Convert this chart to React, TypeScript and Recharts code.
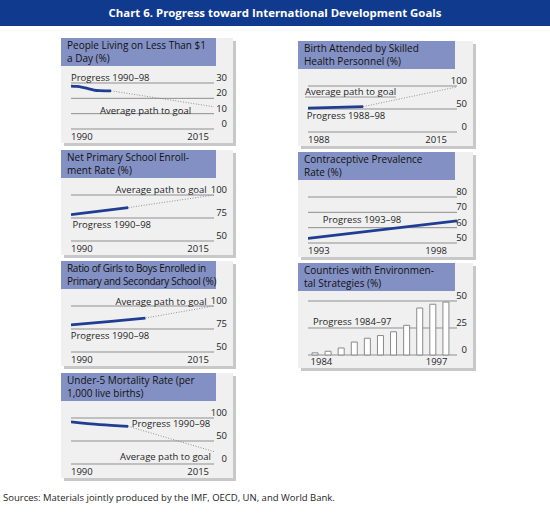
import React from "react";
import { LineChart, Line, BarChart, Bar, XAxis, YAxis, CartesianGrid } from "recharts";

const FONT = '"Open Sans", "Noto Sans", sans-serif';
const GRID = "#8f8f8f";
const BLUE = "#1f3d93";
const HEADER = "#8390c4";
const PANEL = "#f0f0f0";
const INK = "#1e1e1e";

// People living on less than $1 a day (%)
const povertyYears = [1990, 1991, 1992, 1993, 1994, 1995, 1996, 1997];
const povertyProgress = [28, 27.8, 27.2, 26.3, 25.4, 25, 24.9, 24.9];
const povertyPathYears = [1997, 2015];
const povertyPath = [24.9, 14.5];

// Net primary school enrollment rate (%)
const enrollYears = [1990, 2000];
const enrollProgress = [78.6, 86.3];
const enrollPathYears = [2000, 2015];
const enrollPath = [86.3, 100];

// Ratio of girls to boys enrolled (%)
const girlsYears = [1990, 1997, 2003];
const girlsProgress = [79.5, 83.2, 86.9];
const girlsPathYears = [2003, 2015];
const girlsPath = [86.9, 100];

// Under-5 mortality rate (per 1,000 live births)
const mortalityYears = [1990, 1995, 2000];
const mortalityProgress = [91.5, 85.5, 82];
const mortalityPathYears = [2000, 2015];
const mortalityPath = [82, 27];

// Births attended by skilled health personnel (%)
const birthYears = [1988, 1998];
const birthProgress = [52, 55.2];
const birthPathYears = [1998, 2015];
const birthPath = [55.2, 98];

// Contraceptive prevalence rate (%)
const contraYears = [1993, 1998];
const contraProgress = [53, 64.5];

// Countries with environmental strategies (%)
const envValues = [2, 3.5, 6.5, 12, 15.5, 18, 21.5, 27.5, 43.5, 47, 49];
const envTickLabels = ["1984", "", "", "", "", "", "", "", "", "", "1997"];

type Row = { year: number; progress: number | null; path: number | null };

function mergeRows(px: number[], pv: number[], gx: number[], gv: number[]): Row[] {
  const map = new Map<number, Row>();
  px.forEach((x, i) => map.set(x, { year: x, progress: pv[i], path: null }));
  gx.forEach((x, i) => {
    const r = map.get(x) ?? { year: x, progress: null, path: null };
    r.path = gv[i];
    map.set(x, r);
  });
  return [...map.values()].sort((a, b) => a.year - b.year);
}

type Col = { left: number; width: number; headW: number; axisW: number; labelDx: number; xEndShift: number };
const LEFT: Col = { left: 61, width: 172, headW: 155, axisW: 19, labelDx: 13, xEndShift: 5 };
const RIGHT: Col = { left: 298, width: 175, headW: 157, axisW: 16, labelDx: 10, xEndShift: 10 };

type Note = { text: string; x: number; y: number; end?: boolean; underline?: boolean };

// chart svg starts this far below the panel top
const CHART_TOP = 20;

const makeYTick = (dx: number) => (p: any) => (
  <text x={p.x + dx} y={p.y - 2} textAnchor="end" fontSize={9.5} fontFamily={FONT} fill={INK}>
    {p.payload.value}
  </text>
);

const makeXTick = (endShift: number) => (p: any) => {
  const first = p.index === 0;
  return (
    <text x={first ? p.x : p.x - endShift} y={p.y + 11} textAnchor={first ? "start" : "end"} fontSize={9.5} fontFamily={FONT} fill={INK}>
      {p.payload.value}
    </text>
  );
};

function Panel({ col, top, title, notes, tight, children }: { col: Col; top: number; title: string[]; notes: Note[]; tight?: boolean; children: React.ReactNode }) {
  return (
    <div style={{ position: "absolute", left: col.left, top, width: col.width, height: 105, background: PANEL, boxShadow: "3px 3px 0 #c8c8c8" }}>
      <div style={{ position: "absolute", left: 0, top: 0, width: col.headW, height: 28, background: HEADER }} />
      <div style={{ position: "absolute", left: 0, top: CHART_TOP }}>{children}</div>
      <div style={{ position: "absolute", left: 6, top: 1, fontSize: 10, lineHeight: "12.8px", color: "#111", whiteSpace: "nowrap", fontFamily: FONT, letterSpacing: tight ? -0.3 : 0 }}>
        {title.map((t) => <div key={t}>{t}</div>)}
      </div>
      {notes.map((n) => (
        <div key={n.text} style={{
          position: "absolute", top: n.y, transform: "translateY(-50%)",
          ...(n.end ? { right: col.width - n.x } : { left: n.x }),
          fontSize: 9.5, lineHeight: "10px", whiteSpace: "nowrap", color: INK, fontFamily: FONT,
          borderBottom: n.underline ? "1px solid #9a9a9a" : undefined,
        }}>{n.text}</div>
      ))}
    </div>
  );
}

function LinePanel({ col, top, title, rows, xDomain, yDomain, yTicks, notes, tight }: {
  col: Col; top: number; title: string[]; rows: Row[]; xDomain: number[]; yDomain: number[]; yTicks: number[]; notes: Note[]; tight?: boolean;
}) {
  return (
    <Panel col={col} top={top} title={title} notes={notes} tight={tight}>
      <LineChart width={col.width} height={85} data={rows} margin={{ top: 45 - CHART_TOP, right: 0, bottom: 0, left: 10 }}>
        <CartesianGrid vertical={false} stroke={GRID} strokeWidth={1} />
        <XAxis type="number" dataKey="year" domain={xDomain} ticks={xDomain} interval={0} allowDataOverflow axisLine={false} tickLine={false} tickSize={0} tickMargin={0} height={14} tick={makeXTick(col.xEndShift)} />
        <YAxis orientation="right" type="number" domain={yDomain} ticks={yTicks} interval={0} allowDataOverflow axisLine={false} tickLine={false} tickSize={0} tickMargin={0} width={col.axisW} tick={makeYTick(col.labelDx)} />
        <Line type="linear" dataKey="path" stroke="#7a7a7a" strokeWidth={0.8} strokeDasharray="1 1.6" dot={false} isAnimationActive={false} />
        <Line type="monotone" dataKey="progress" stroke={BLUE} strokeWidth={2.8} dot={false} isAnimationActive={false} />
      </LineChart>
    </Panel>
  );
}

const envRows = envValues.map((v, i) => ({ slot: i, value: v }));

export default function App() {
  return (
    <div style={{ position: "absolute", left: 0, top: 0, width: 550, height: 520, background: "#fff", fontFamily: FONT }}>
      <div style={{ position: "absolute", left: 0, top: 0, width: 550, height: 26, background: "#103a8e", color: "#fff", fontWeight: 700, fontSize: 11.4, lineHeight: "26px", textAlign: "center" }}>
        Chart 6. Progress toward International Development Goals
      </div>

      <LinePanel col={LEFT} top={38} title={["People Living on Less Than $1", "a Day (%)"]}
        rows={mergeRows(povertyYears, povertyProgress, povertyPathYears, povertyPath)}
        xDomain={[1990, 2015]} yDomain={[0, 30]} yTicks={[0, 10, 20, 30]}
        notes={[{ text: "Progress 1990–98", x: 10, y: 39.5 }, { text: "Average path to goal", x: 39, y: 72.5 }]} />

      <LinePanel col={LEFT} top={150} title={["Net Primary School Enroll-", "ment Rate (%)"]}
        rows={mergeRows(enrollYears, enrollProgress, enrollPathYears, enrollPath)}
        xDomain={[1990, 2015]} yDomain={[50, 100]} yTicks={[50, 75, 100]}
        notes={[{ text: "Average path to goal", x: 145.7, y: 40, end: true }, { text: "Progress 1990–98", x: 11.5, y: 75 }]} />

      <LinePanel col={LEFT} top={261} tight title={["Ratio of Girls to Boys Enrolled in", "Primary and Secondary School (%)"]}
        rows={mergeRows(girlsYears, girlsProgress, girlsPathYears, girlsPath)}
        xDomain={[1990, 2015]} yDomain={[50, 100]} yTicks={[50, 75, 100]}
        notes={[{ text: "Average path to goal", x: 145.7, y: 40.5, end: true }, { text: "Progress 1990–98", x: 9.7, y: 75 }]} />

      <LinePanel col={LEFT} top={373} title={["Under-5 Mortality Rate (per", "1,000 live births)"]}
        rows={mergeRows(mortalityYears, mortalityProgress, mortalityPathYears, mortalityPath)}
        xDomain={[1990, 2015]} yDomain={[0, 100]} yTicks={[0, 50, 100]}
        notes={[{ text: "Progress 1990–98", x: 70.7, y: 51 }, { text: "Average path to goal", x: 150, y: 83.7, end: true }]} />

      <LinePanel col={RIGHT} top={41} title={["Birth Attended by Skilled", "Health Personnel (%)"]}
        rows={mergeRows(birthYears, birthProgress, birthPathYears, birthPath)}
        xDomain={[1988, 2015]} yDomain={[0, 100]} yTicks={[0, 50, 100]}
        notes={[{ text: "Average path to goal", x: 7, y: 50.7, underline: true }, { text: "Progress 1988–98", x: 8.7, y: 74.7 }]} />

      <LinePanel col={RIGHT} top={152} title={["Contraceptive Prevalence", "Rate (%)"]}
        rows={mergeRows(contraYears, contraProgress, [], [])}
        xDomain={[1993, 1998]} yDomain={[50, 80]} yTicks={[50, 60, 70, 80]}
        notes={[{ text: "Progress 1993–98", x: 24.7, y: 68 }]} />

      <Panel col={RIGHT} top={263} title={["Countries with Environmen-", "tal Strategies (%)"]}
        notes={[{ text: "Progress 1984–97", x: 15, y: 58.7 }]}>
        <BarChart width={RIGHT.width} height={85} data={envRows} margin={{ top: 38 - CHART_TOP, right: 0, bottom: 0, left: 10 }}>
          <CartesianGrid vertical={false} stroke={GRID} strokeWidth={1} />
          <XAxis dataKey="slot" type="category" interval={0} padding={{ left: 0, right: 5 }} axisLine={false} tickLine={false} tickSize={0} tickMargin={0} height={13}
            tick={(p: any) => {
              const label = envTickLabels[p.index];
              if (!label) return <g />;
              const first = p.index === 0;
              return (
                <text x={first ? p.x - 4 : p.x + 2} y={p.y + 10} textAnchor={first ? "start" : "end"} fontSize={9.5} fontFamily={FONT} fill={INK}>{label}</text>
              );
            }} />
          <YAxis orientation="right" type="number" domain={[0, 50]} ticks={[0, 25, 50]} interval={0} axisLine={false} tickLine={false} tickSize={0} tickMargin={0} width={RIGHT.axisW} tick={makeYTick(RIGHT.labelDx)} />
          <Bar dataKey="value" fill="#ffffff" stroke="#8a8a8a" strokeWidth={1} barSize={6} isAnimationActive={false} />
        </BarChart>
      </Panel>

      <div style={{ position: "absolute", left: 3, top: 492, fontSize: 9.5, lineHeight: "12px", color: INK, whiteSpace: "nowrap" }}>
        Sources: Materials jointly produced by the IMF, OECD, UN, and World Bank.
      </div>
    </div>
  );
}
